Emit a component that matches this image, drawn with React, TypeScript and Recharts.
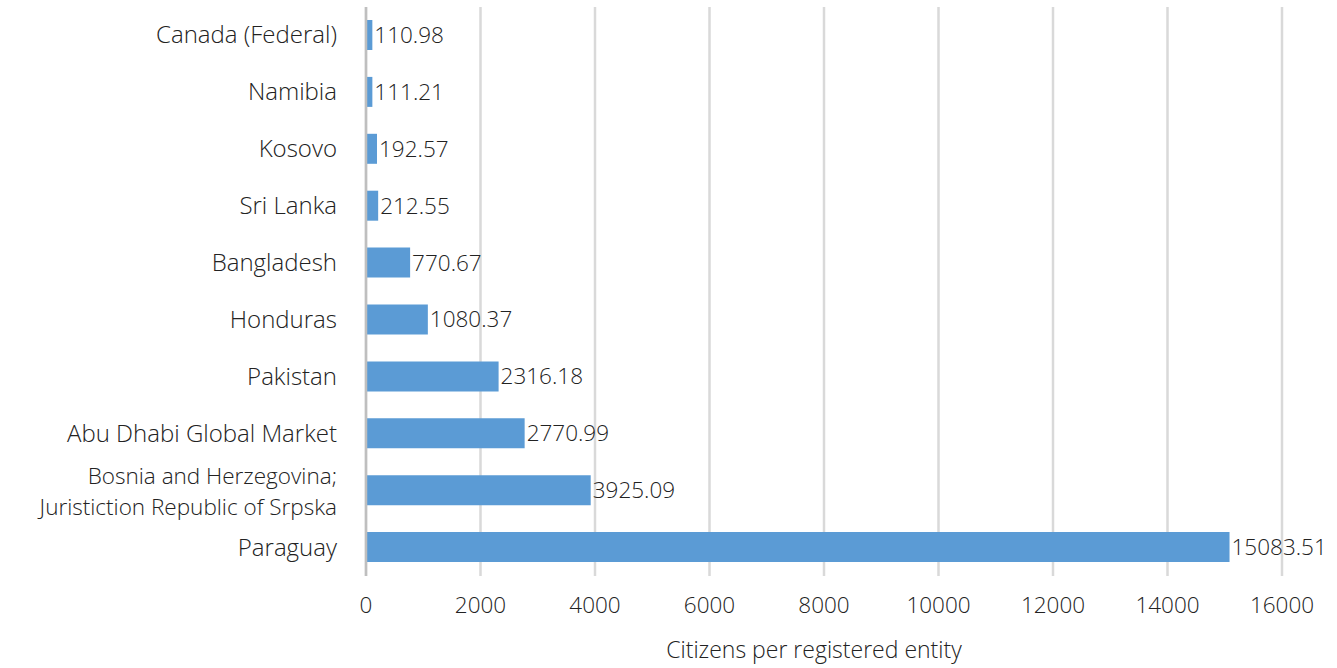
import { BarChart, Bar, XAxis, YAxis, CartesianGrid, LabelList } from "recharts";

const categories = [
  "Canada (Federal)",
  "Namibia",
  "Kosovo",
  "Sri Lanka",
  "Bangladesh",
  "Honduras",
  "Pakistan",
  "Abu Dhabi Global Market",
  "Bosnia and Herzegovina;\nJuristiction Republic of Srpska",
  "Paraguay",
];
const values = [110.98, 111.21, 192.57, 212.55, 770.67, 1080.37, 2316.18, 2770.99, 3925.09, 15083.51];
const xTicks = [0, 2000, 4000, 6000, 8000, 10000, 12000, 14000, 16000];

const data = categories.map((name, i) => ({ name, value: values[i] }));

const FONT = "'Open Sans', Lato, sans-serif";
const TEXT = "#222";
const FS = 22.5; // numbers
const CAT_FS = 24; // category names + axis title

const CategoryTick = ({ x, y, payload }: any) => {
  const lines = String(payload.value).split("\n");
  const multi = lines.length > 1;
  // wrapped label: a touch smaller so the two lines don't collide
  const fs = multi ? 22.5 : CAT_FS;
  const lh = 31;
  const start = -((lines.length - 1) * lh) / 2 + 8 + (multi ? 1 : 0);
  return (
    <g>
      {lines.map((l, i) => (
        <text
          key={i}
          x={x - 21}
          y={y + start + i * lh}
          textAnchor="end"
          fill={TEXT}
          fontSize={fs}
          fontFamily={FONT}
          fontWeight={300}
        >
          {l}
        </text>
      ))}
    </g>
  );
};

export default function App() {
  return (
    <div style={{ position: "absolute", left: 0, top: 0, background: "#fff" }}>
      <BarChart
        width={1337}
        height={668}
        data={data}
        layout="vertical"
        margin={{ top: 7, right: 55, bottom: 0, left: 0 }}
        barSize={30}
      >
        <CartesianGrid horizontal={false} stroke="#d9d9d9" strokeWidth={2.5} />
        <XAxis
          type="number"
          domain={[0, 16000]}
          ticks={xTicks}
          interval={0}
          axisLine={false}
          tickLine={false}
          height={92}
          tickMargin={15}
          tick={{ fill: TEXT, fontSize: FS, fontFamily: FONT, fontWeight: 300 }}
          label={{
            value: "Citizens per registered entity",
            position: "insideBottom",
            offset: 10,
            dx: -10,
            fill: TEXT,
            fontSize: CAT_FS - 1,
            fontFamily: FONT,
            fontWeight: 300,
          }}
        />
        <YAxis
          type="category"
          dataKey="name"
          width={366}
          interval={0}
          axisLine={{ stroke: "#bfbfbf", strokeWidth: 2.5 }}
          tickLine={false}
          tick={<CategoryTick />}
        />
        <Bar dataKey="value" fill="#5b9bd5" isAnimationActive={false}>
          <LabelList
            dataKey="value"
            position="right"
            offset={2}
            fill={TEXT}
            fontSize={FS}
            fontFamily={FONT}
            fontWeight={300}
            formatter={(v: any) => String(v)}
          />
        </Bar>
      </BarChart>
    </div>
  );
}
